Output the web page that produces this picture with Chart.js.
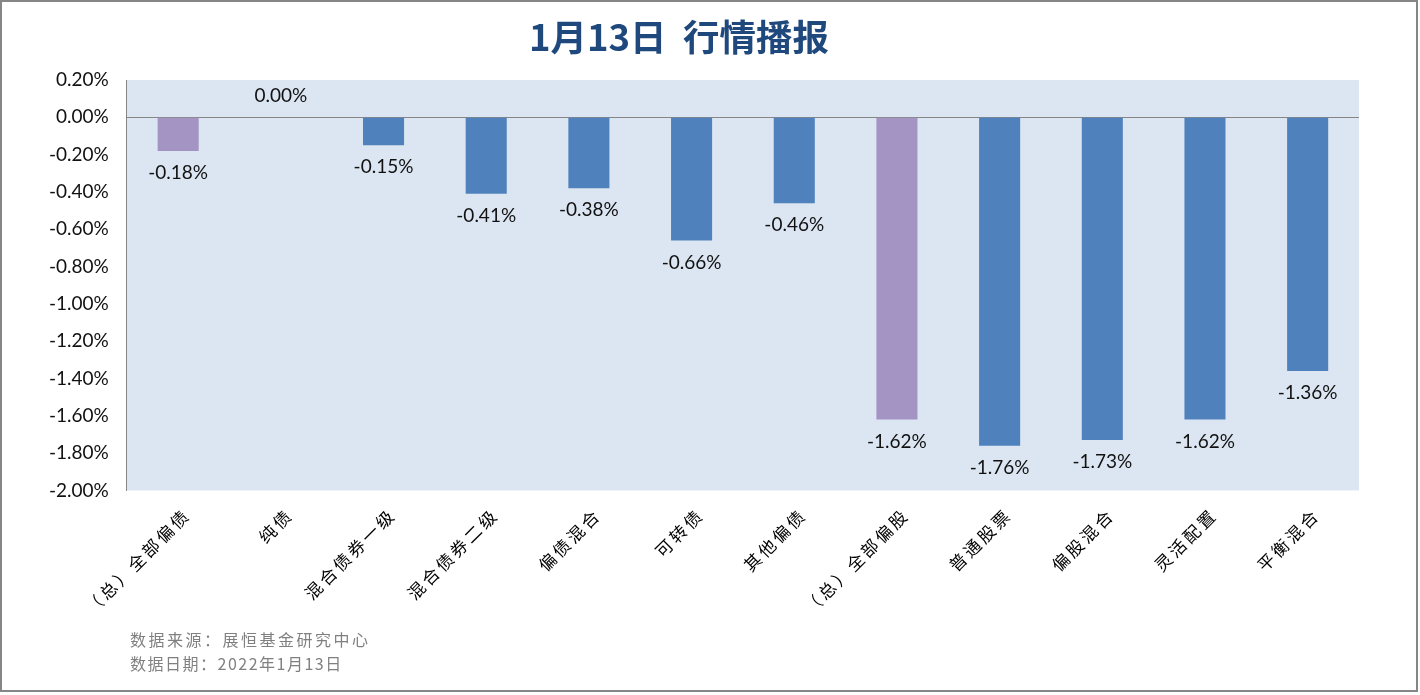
<!DOCTYPE html>
<html>
<head>
<meta charset="utf-8">
<script src="https://cdn.jsdelivr.net/npm/chart.js@4"></script>
<style>
  html, body { margin: 0; padding: 0; background: #fff; }
  canvas { display: block; }
</style>
</head>
<body>
<canvas id="marketChart" width="1420" height="695"></canvas>
<script>
// data
const categories = ['（总）全部偏债', '纯债', '混合债券一级', '混合债券二级', '偏债混合', '可转债',
  '其他偏债', '（总）全部偏股', '普通股票', '偏股混合', '灵活配置', '平衡混合'];
const changes = [-0.18, 0.00, -0.15, -0.41, -0.38, -0.66, -0.46, -1.62, -1.76, -1.73, -1.62, -1.36];
const totalRows = [0, 7];
const yMin = -2.0, yMax = 0.2, yStep = 0.2;

const titleText = '1月13日  行情播报';
const sourceLines = ['数据来源：展恒基金研究中心', '数据日期：2022年1月13日'];

const blue = '#4F81BD', purple = '#A394C4';
const barColors = changes.map((v, i) => totalRows.includes(i) ? purple : blue);

// spaced-out category labels, like the original
const spacedLabels = {
  id: 'spacedLabels',
  afterLayout(chart) {
    const sc = chart.scales.x;
    if (sc._spaced) return;
    const orig = sc.drawLabels;
    sc.drawLabels = function (area) {
      const ctx = this.ctx;
      ctx.save();
      ctx.letterSpacing = '3px';
      orig.call(this, area);
      ctx.restore();
    };
    sc._spaced = true;
  }
};

// plot background + frame + title + footer + value labels
const decor = {
  id: 'decor',
  beforeDraw(chart) {
    const { ctx, chartArea: a } = chart;
    ctx.save();
    ctx.fillStyle = '#DCE6F2';
    ctx.fillRect(a.left, a.top, a.right - a.left, a.bottom - a.top);
    ctx.restore();
  },
  afterDraw(chart) {
    const ctx = chart.ctx;
    ctx.save();
    // outer frame
    ctx.strokeStyle = '#868686';
    ctx.lineWidth = 2;
    ctx.strokeRect(1, 1, 1416, 690);

    // title, condensed
    ctx.font = 'bold 36px "Liberation Sans Narrow", "Noto Sans CJK SC", sans-serif';
    const w = ctx.measureText(titleText).width;
    const sx = 300 / w;
    ctx.translate(679, 37);
    ctx.scale(sx, 1);
    ctx.fillStyle = '#1F497D';
    ctx.textAlign = 'center';
    ctx.textBaseline = 'middle';
    ctx.fillText(titleText, 0, 0);
    ctx.setTransform(1, 0, 0, 1, 0, 0);

    // footer
    ctx.font = '16px "Noto Sans CJK SC", sans-serif';
    ctx.fillStyle = '#808080';
    ctx.textAlign = 'left';
    ctx.letterSpacing = '2.5px';
    ctx.fillText(sourceLines[0], 130, 640);
    ctx.letterSpacing = '1.5px';
    ctx.fillText(sourceLines[1], 130, 664);
    ctx.letterSpacing = '0px';

    // value labels
    ctx.font = '19px Lato, sans-serif';
    ctx.fillStyle = '#111';
    ctx.textAlign = 'center';
    ctx.textBaseline = 'middle';
    const meta = chart.getDatasetMeta(0);
    meta.data.forEach((bar, i) => {
      const v = changes[i];
      const y = v < 0 ? bar.y + 22 : bar.y - 21;
      ctx.fillText(v.toFixed(2) + '%', bar.x, y);
    });
    ctx.restore();
  }
};

new Chart(document.getElementById('marketChart'), {
  type: 'bar',
  data: {
    labels: categories,
    datasets: [{
      data: changes,
      backgroundColor: barColors,
      barPercentage: 0.4,
      categoryPercentage: 1.0
    }]
  },
  options: {
    responsive: false,
    animation: false,
    layout: { padding: { top: 80, left: 31, right: 61, bottom: 86 } },
    plugins: {
      legend: { display: false },
      tooltip: { enabled: false }
    },
    scales: {
      x: {
        grid: { display: false },
        border: { display: false },
        ticks: {
          minRotation: 45,
          maxRotation: 45,
          color: '#000',
          padding: 6,
          labelOffset: 9,
          font: { family: '"Noto Sans CJK SC"', size: 17 }
        }
      },
      y: {
        min: yMin,
        max: yMax,
        border: { display: true, color: '#868686', width: 1 },
        grid: {
          drawTicks: false,
          color: c => Math.abs(c.tick.value) < 1e-9 ? '#868686' : 'rgba(0,0,0,0)'
        },
        ticks: {
          stepSize: yStep,
          padding: 18,
          color: '#111',
          font: { family: 'Lato', size: 19 },
          callback: v => v.toFixed(2) + '%'
        }
      }
    }
  },
  plugins: [spacedLabels, decor]
});
</script>
</body>
</html>
